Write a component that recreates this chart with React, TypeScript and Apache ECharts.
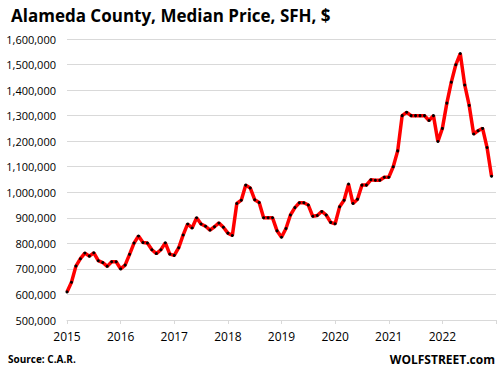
import React, { useEffect, useRef } from "react";
import * as echarts from "echarts";

const years = [2015, 2016, 2017, 2018, 2019, 2020, 2021, 2022];
const prices2015 = [610000, 648000, 711000, 740000, 762000, 750000, 763000, 732000, 725000, 710000, 728000, 728000];
const prices2016 = [700000, 715000, 757000, 801000, 829000, 803000, 801000, 775000, 760000, 775000, 802000, 758000];
const prices2017 = [753000, 783000, 833000, 876000, 860000, 900000, 876000, 867000, 852000, 865000, 880000, 863000];
const prices2018 = [840000, 831000, 956000, 969000, 1028000, 1017000, 971000, 960000, 900000, 900000, 900000, 849000];
const prices2019 = [824000, 858000, 911000, 940000, 959000, 959000, 950000, 906000, 909000, 925000, 911000, 882000];
const prices2020 = [877000, 943000, 969000, 1032000, 956000, 973000, 1028000, 1028000, 1049000, 1047000, 1047000, 1059000];
const prices2021 = [1059000, 1100000, 1162000, 1300000, 1313000, 1300000, 1300000, 1300000, 1300000, 1281000, 1300000, 1199000];
const prices2022 = [1250000, 1349000, 1431000, 1499000, 1543000, 1420000, 1340000, 1228000, 1241000, 1250000, 1175000, 1063000];
const pricesByYear = [prices2015, prices2016, prices2017, prices2018, prices2019, prices2020, prices2021, prices2022];

const title = "Alameda County, Median Price, SFH, $";
const source = "Source: C.A.R.";
const brand = "WOLFSTREET.com";

export default function App() {
  const ref = useRef<HTMLDivElement>(null);
  useEffect(() => {
    if (!ref.current) return;
    const chart = echarts.init(ref.current, null, { renderer: "svg" });
    const data: [number, number][] = [];
    pricesByYear.forEach((arr, yi) => {
      arr.forEach((v, m) => data.push([years[yi] + m / 12, v]));
    });
    const font = "'Open Sans', 'DejaVu Sans', sans-serif";
    chart.setOption({
      animation: false,
      backgroundColor: "#fff",
      title: {
        text: title,
        left: 6,
        top: 2,
        textStyle: { fontFamily: font, fontSize: 17, fontWeight: "bold", color: "#000" },
      },
      graphic: [
        {
          type: "text",
          left: 8,
          top: 354,
          style: { text: source, font: `bold 10px ${font}`, fill: "#000" },
        },
        {
          type: "text",
          right: 5,
          top: 353,
          style: { text: brand, font: `bold 12px ${font}`, fill: "#000" },
        },
      ],
      grid: { left: 67, right: 4, top: 39, bottom: 59 },
      xAxis: {
        type: "value",
        min: 2015,
        max: 2023,
        interval: 1,
        axisLine: { show: true, lineStyle: { color: "#d9d9d9" } },
        axisTick: { show: true, length: 4, lineStyle: { color: "#d9d9d9" } },
        splitLine: { show: false },
        axisLabel: {
          color: "#000",
          fontFamily: font,
          fontSize: 12,
          margin: 10,
          formatter: (v: number) => (v >= 2023 ? "" : String(v)),
        },
      },
      yAxis: {
        type: "value",
        min: 500000,
        max: 1600000,
        interval: 100000,
        axisLine: { show: false },
        axisTick: { show: false },
        splitLine: { show: true, lineStyle: { color: "#d9d9d9", width: 1 } },
        axisLabel: {
          color: "#000",
          fontFamily: font,
          fontSize: 11,
          margin: 11,
          formatter: (v: number) => v.toLocaleString("en-US"),
        },
      },
      series: [
        {
          type: "line",
          data,
          lineStyle: { color: "#ff0000", width: 3.5 },
          symbol: "circle",
          symbolSize: 3,
          itemStyle: { color: "#000" },
          showSymbol: true,
        },
      ],
    });
    return () => chart.dispose();
  }, []);
  return <div ref={ref} style={{ width: 500, height: 379, position: "absolute", left: 0, top: 0 }} />;
}
